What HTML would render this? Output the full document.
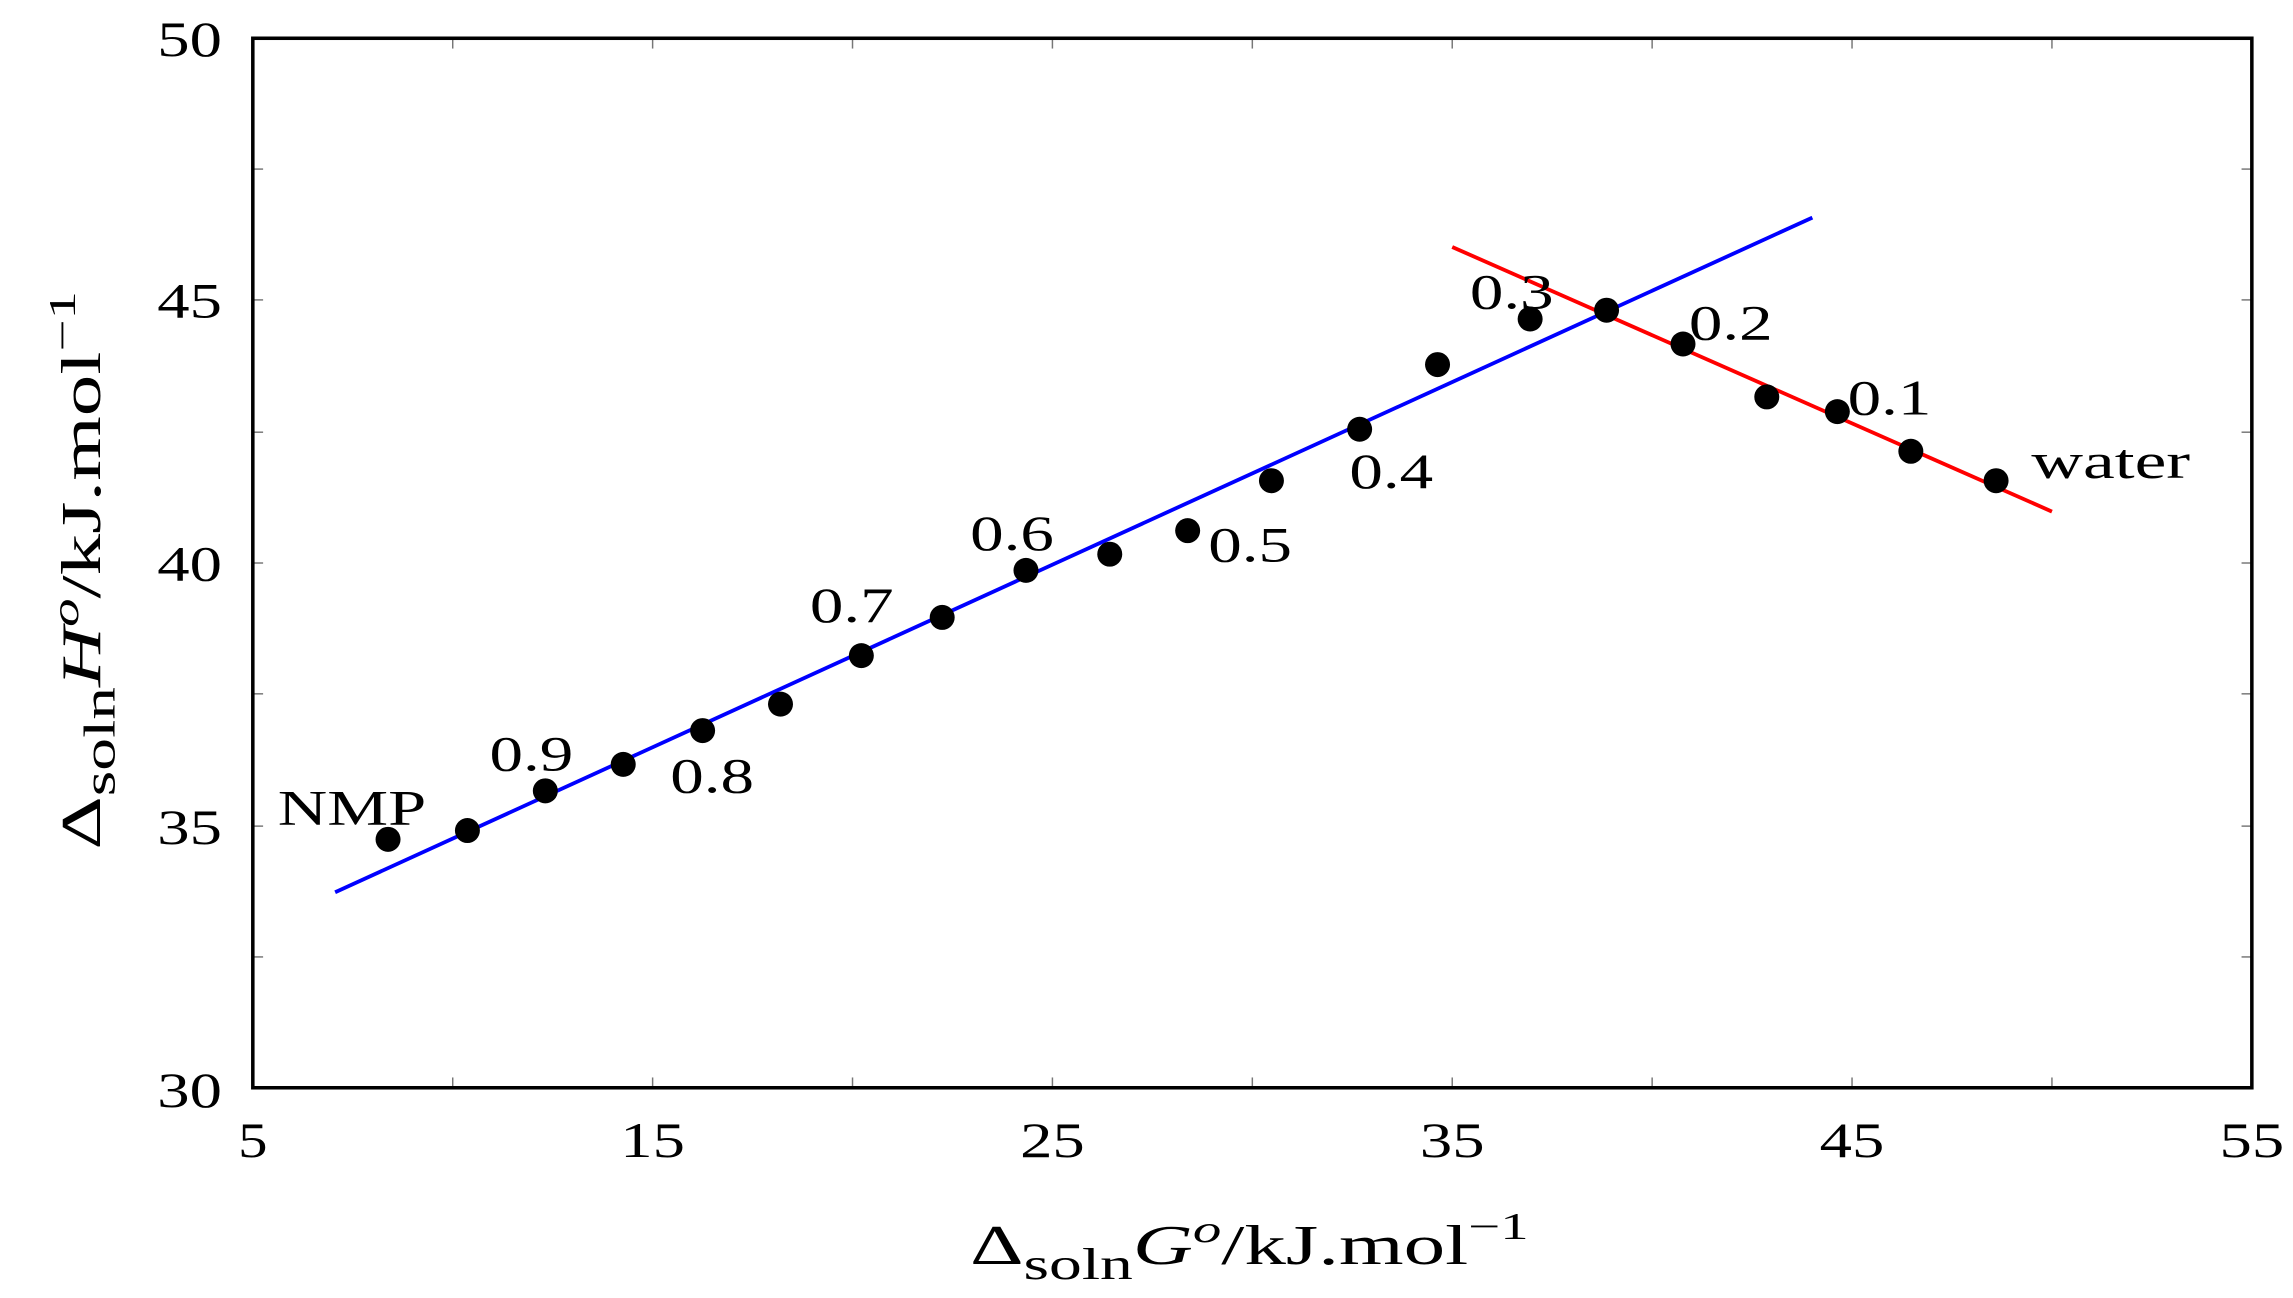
<!DOCTYPE html>
<html><head><meta charset="utf-8"><style>
html,body{margin:0;padding:0;background:#fff;}
svg{display:block;}
text{font-family:"Liberation Serif",serif;fill:#000;}
</style></head><body>
<svg width="2293" height="1298" viewBox="0 0 1560 883" xmlns="http://www.w3.org/2000/svg">
<rect width="1560" height="883" fill="#fff"/>
<g stroke="#777" stroke-width="1">
<line x1="308" y1="26" x2="308" y2="33"/><line x1="308" y1="740" x2="308" y2="733"/>
<line x1="444" y1="26" x2="444" y2="33"/><line x1="444" y1="740" x2="444" y2="733"/>
<line x1="580" y1="26" x2="580" y2="33"/><line x1="580" y1="740" x2="580" y2="733"/>
<line x1="716" y1="26" x2="716" y2="33"/><line x1="716" y1="740" x2="716" y2="733"/>
<line x1="852" y1="26" x2="852" y2="33"/><line x1="852" y1="740" x2="852" y2="733"/>
<line x1="988" y1="26" x2="988" y2="33"/><line x1="988" y1="740" x2="988" y2="733"/>
<line x1="1124" y1="26" x2="1124" y2="33"/><line x1="1124" y1="740" x2="1124" y2="733"/>
<line x1="1260" y1="26" x2="1260" y2="33"/><line x1="1260" y1="740" x2="1260" y2="733"/>
<line x1="1396" y1="26" x2="1396" y2="33"/><line x1="1396" y1="740" x2="1396" y2="733"/>
<line x1="172" y1="115" x2="179" y2="115"/><line x1="1532" y1="115" x2="1525" y2="115"/>
<line x1="172" y1="204" x2="179" y2="204"/><line x1="1532" y1="204" x2="1525" y2="204"/>
<line x1="172" y1="294" x2="179" y2="294"/><line x1="1532" y1="294" x2="1525" y2="294"/>
<line x1="172" y1="383" x2="179" y2="383"/><line x1="1532" y1="383" x2="1525" y2="383"/>
<line x1="172" y1="472" x2="179" y2="472"/><line x1="1532" y1="472" x2="1525" y2="472"/>
<line x1="172" y1="562" x2="179" y2="562"/><line x1="1532" y1="562" x2="1525" y2="562"/>
<line x1="172" y1="651" x2="179" y2="651"/><line x1="1532" y1="651" x2="1525" y2="651"/>
</g>
<rect x="172" y="26" width="1360" height="714" fill="none" stroke="#000" stroke-width="2.4"/>
<g font-size="34">
<text x="162" y="787" textLength="20" lengthAdjust="spacingAndGlyphs">5</text>
<text x="422" y="787" textLength="44" lengthAdjust="spacingAndGlyphs">15</text><text x="694" y="787" textLength="44" lengthAdjust="spacingAndGlyphs">25</text>
<text x="966" y="787" textLength="44" lengthAdjust="spacingAndGlyphs">35</text><text x="1238" y="787" textLength="44" lengthAdjust="spacingAndGlyphs">45</text><text x="1510" y="787" textLength="44" lengthAdjust="spacingAndGlyphs">55</text>
<text x="107" y="753" textLength="44" lengthAdjust="spacingAndGlyphs">30</text><text x="107" y="574" textLength="44" lengthAdjust="spacingAndGlyphs">35</text><text x="107" y="395" textLength="44" lengthAdjust="spacingAndGlyphs">40</text>
<text x="107" y="216" textLength="44" lengthAdjust="spacingAndGlyphs">45</text><text x="107" y="38" textLength="44" lengthAdjust="spacingAndGlyphs">50</text>
</g>
<line x1="228" y1="607" x2="1233" y2="148" stroke="#0000ff" stroke-width="2.6"/>
<line x1="988" y1="168" x2="1396" y2="348" stroke="#ff0000" stroke-width="2.6"/>
<g fill="#000">
<circle cx="264" cy="571" r="8.5"/><circle cx="318" cy="565" r="8.5"/><circle cx="371" cy="538" r="8.5"/>
<circle cx="424" cy="520" r="8.5"/><circle cx="478" cy="497" r="8.5"/><circle cx="531" cy="479" r="8.5"/>
<circle cx="586" cy="446" r="8.5"/><circle cx="641" cy="420" r="8.5"/><circle cx="698" cy="388" r="8.5"/>
<circle cx="755" cy="377" r="8.5"/><circle cx="808" cy="361" r="8.5"/><circle cx="865" cy="327" r="8.5"/>
<circle cx="925" cy="292" r="8.5"/><circle cx="978" cy="248" r="8.5"/><circle cx="1041" cy="217" r="8.5"/>
<circle cx="1093" cy="211" r="8.5"/><circle cx="1145" cy="234" r="8.5"/><circle cx="1202" cy="270" r="8.5"/>
<circle cx="1250" cy="280" r="8.5"/><circle cx="1300" cy="307" r="8.5"/><circle cx="1358" cy="327" r="8.5"/>
</g>
<g font-size="34">
<text x="189" y="561" textLength="101" lengthAdjust="spacingAndGlyphs">NMP</text>
<text x="333" y="524" textLength="57" lengthAdjust="spacingAndGlyphs">0.9</text>
<text x="456" y="539" textLength="57" lengthAdjust="spacingAndGlyphs">0.8</text>
<text x="551" y="423" textLength="57" lengthAdjust="spacingAndGlyphs">0.7</text>
<text x="660" y="374" textLength="57" lengthAdjust="spacingAndGlyphs">0.6</text>
<text x="822" y="382" textLength="57" lengthAdjust="spacingAndGlyphs">0.5</text>
<text x="918" y="332" textLength="57" lengthAdjust="spacingAndGlyphs">0.4</text>
<text x="1000" y="210" textLength="57" lengthAdjust="spacingAndGlyphs">0.3</text>
<text x="1149" y="231" textLength="57" lengthAdjust="spacingAndGlyphs">0.2</text>
<text x="1257" y="282" textLength="57" lengthAdjust="spacingAndGlyphs">0.1</text>
<text x="1382" y="325" textLength="108" lengthAdjust="spacingAndGlyphs">water</text>
</g>
<text x="660" y="860" font-size="38" textLength="380" lengthAdjust="spacingAndGlyphs">Δ<tspan font-size="30" dy="10">soln</tspan><tspan font-style="italic" dy="-10">G</tspan><tspan font-style="italic" font-size="26" dy="-15">o</tspan><tspan dy="15">/kJ.mol</tspan><tspan font-size="26" dy="-17">−1</tspan></text>
<text transform="translate(68,578) rotate(-90)" font-size="38" textLength="380" lengthAdjust="spacingAndGlyphs">Δ<tspan font-size="30" dy="10">soln</tspan><tspan font-style="italic" dy="-10">H</tspan><tspan font-style="italic" font-size="26" dy="-15">o</tspan><tspan dy="15">/kJ.mol</tspan><tspan font-size="26" dy="-17">−1</tspan></text>
</svg>
</body></html>
